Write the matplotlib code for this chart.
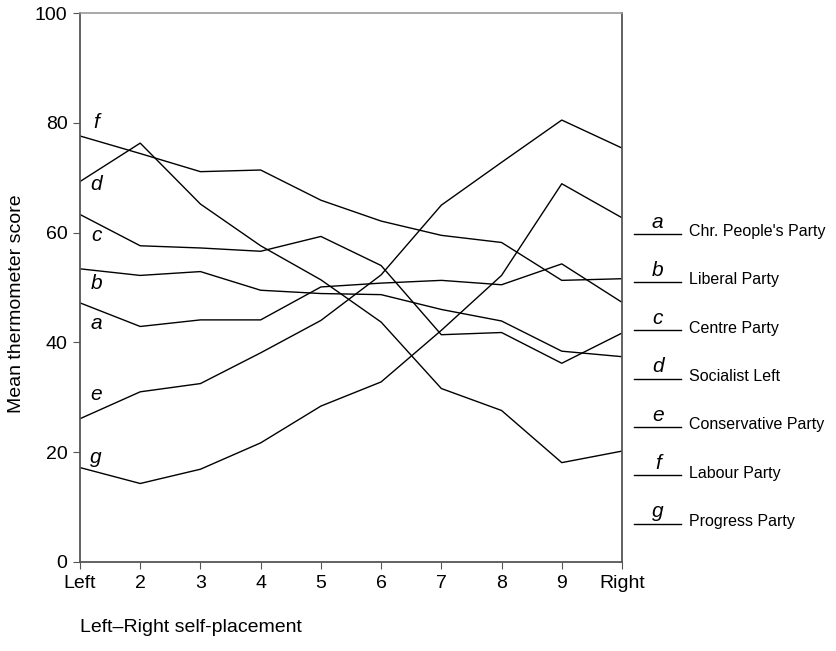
import numpy as np
import matplotlib
matplotlib.use('Agg')
import matplotlib.pyplot as plt

plt.rcParams['font.family'] = ['Liberation Sans', 'DejaVu Sans']

ticks = ['Left', '2', '3', '4', '5', '6', '7', '8', '9', 'Right']
x = np.arange(1, 11)

a = [47.2, 42.9, 44.1, 44.1, 50.1, 50.8, 51.3, 50.5, 54.3, 47.3]
b = [53.4, 52.2, 52.9, 49.5, 48.9, 48.7, 46.0, 43.9, 38.4, 37.4]
c = [63.3, 57.6, 57.2, 56.6, 59.3, 54.0, 41.4, 41.8, 36.2, 41.7]
d = [69.3, 76.3, 65.2, 57.6, 51.4, 43.7, 31.6, 27.6, 18.1, 20.2]
e = [26.1, 31.0, 32.5, 38.1, 44.0, 52.3, 65.0, 72.8, 80.5, 75.4]
f = [77.6, 74.4, 71.1, 71.4, 65.9, 62.1, 59.5, 58.2, 51.3, 51.6]
g = [17.2, 14.3, 16.9, 21.7, 28.4, 32.8, 42.2, 52.2, 68.9, 62.7]

letters = ['a', 'b', 'c', 'd', 'e', 'f', 'g']
parties = ["Chr. People's Party", 'Liberal Party', 'Centre Party', 'Socialist Left',
           'Conservative Party', 'Labour Party', 'Progress Party']
series = [a, b, c, d, e, f, g]
# y position of the letters at the left
left_lab = [43.5, 50.7, 59.5, 68.8, 30.5, 80.0, 19.0]

fig = plt.figure(figsize=(8.36, 6.51), dpi=100)
ax = fig.add_axes([80/836, 89/651, 542/836, 549/651])

for s in series:
    ax.plot(x, s, color='black', lw=1.0)

for lt, yy in zip(letters, left_lab):
    ax.text(1.27, yy, lt, fontsize=15, style='italic', ha='center', va='center')

# key on the right
for i, (lt, p) in enumerate(zip(letters, parties)):
    yy = 0.598 - i * 0.088
    ax.plot([1.022, 1.109], [yy, yy], color='black', lw=1.0,
            transform=ax.transAxes, clip_on=False)
    ax.text(1.066, yy + 0.004, lt, fontsize=15, style='italic', ha='center',
            va='bottom', transform=ax.transAxes)
    ax.text(1.124, yy + 0.004, p, fontsize=11.5, ha='left', va='center',
            transform=ax.transAxes)

ax.set_xlim(1, 10)
ax.set_ylim(0, 100)
ax.set_xticks(x)
ax.set_xticklabels(ticks, fontsize=14)
ax.set_yticks([0, 20, 40, 60, 80, 100])
ax.tick_params(axis='y', labelsize=14, length=5, color='#555555', pad=4)
ax.tick_params(axis='x', length=5, color='#555555', pad=4)
for sp in ['left', 'right', 'bottom']:
    ax.spines[sp].set_color('#555555')
    ax.spines[sp].set_linewidth(1.3)
ax.spines['top'].set_color('#999999')
ax.spines['top'].set_linewidth(1.2)

ax.set_ylabel('Mean thermometer score', fontsize=14)
ax.yaxis.set_label_coords(-0.102, 0.47)
fig.text(80/836, 1 - 627/651, 'Left\u2013Right self-placement', fontsize=14,
         ha='left', va='center')

fig.savefig('out.png', dpi=100)
